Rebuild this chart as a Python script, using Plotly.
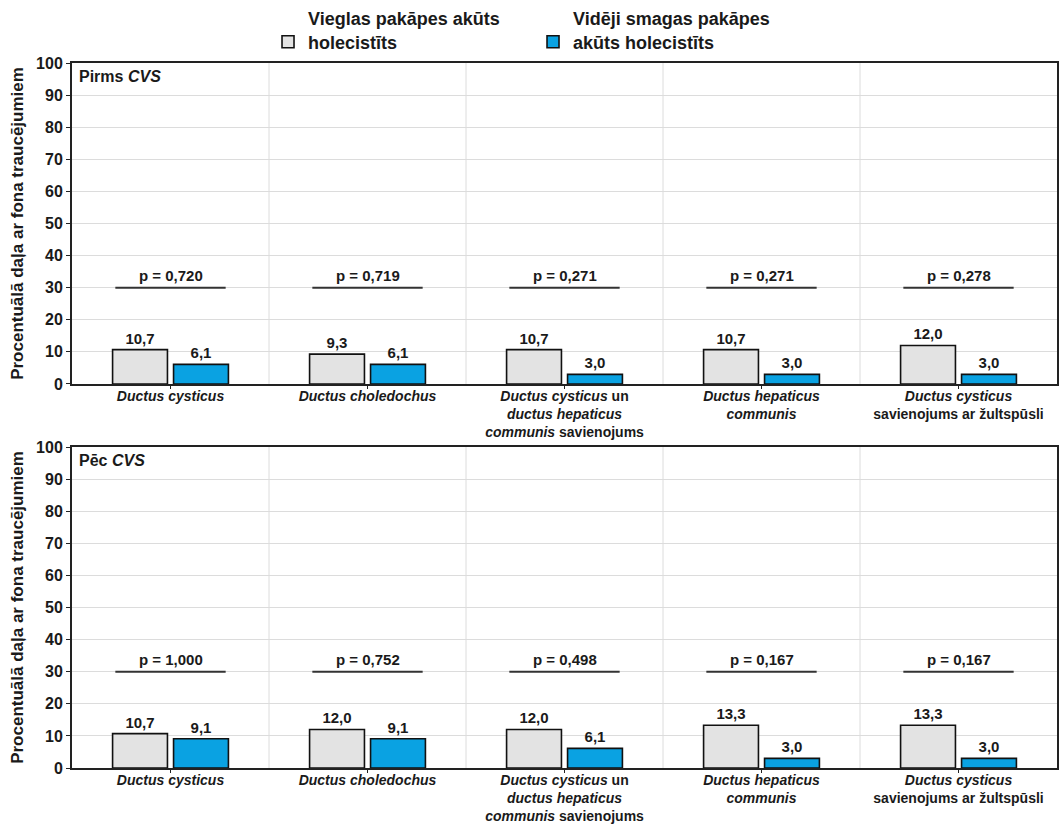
import plotly.graph_objects as go
from plotly.subplots import make_subplots

# Duct segments (x categories) and their tick labels
categories = [
    "Ductus cysticus",
    "Ductus choledochus",
    "Ductus cysticus un ductus hepaticus communis savienojums",
    "Ductus hepaticus communis",
    "Ductus cysticus savienojums ar žultspūsli",
]
tick_labels = [
    "<i>Ductus cysticus</i>",
    "<i>Ductus choledochus</i>",
    "<i>Ductus cysticus</i> un<br><i>ductus hepaticus</i><br><i>communis</i> savienojums",
    "<i>Ductus hepaticus</i><br><i>communis</i>",
    "<i>Ductus cysticus</i><br>savienojums ar žultspūsli",
]

series_names = ["Vieglas pakāpes akūts<br>holecistīts", "Vidēji smagas pakāpes<br>akūts holecistīts"]

# Before CVS
mild_before = [10.7, 9.3, 10.7, 10.7, 12.0]
moderate_before = [6.1, 6.1, 3.0, 3.0, 3.0]
p_before = [0.720, 0.719, 0.271, 0.271, 0.278]

# After CVS
mild_after = [10.7, 12.0, 12.0, 13.3, 13.3]
moderate_after = [9.1, 9.1, 6.1, 3.0, 3.0]
p_after = [1.000, 0.752, 0.498, 0.167, 0.167]

panel_titles = ["Pirms <i>CVS</i>", "Pēc <i>CVS</i>"]
y_title = "Procentuālā daļa ar fona traucējumiem"

FONT = "Arial, Liberation Sans, sans-serif"
INK = "#1a1a1a"
GREY_FILL = "#e3e3e3"
BLUE_FILL = "#0aa2e2"
GRID = "#dcdcdc"
P_LINE_Y = 30

fig = make_subplots(rows=2, cols=1, vertical_spacing=0.0894)

panels = [
    (mild_before, moderate_before, p_before),
    (mild_after, moderate_after, p_after),
]

for row, (mild, moderate, pvals) in enumerate(panels, start=1):
    for vals, name, color in ((mild, series_names[0], GREY_FILL), (moderate, series_names[1], BLUE_FILL)):
        fig.add_trace(
            go.Bar(
                x=categories,
                y=vals,
                name=name,
                marker=dict(color=color, line=dict(color="#111111", width=1.6)),
                texttemplate="%{y:.1f}",
                textposition="outside",
                textfont=dict(family=FONT, size=15, color=INK, weight="bold"),
                cliponaxis=False,
                showlegend=(row == 1),
                legendgroup=name,
            ),
            row=row,
            col=1,
        )

    xref = "x" if row == 1 else "x2"
    yref = "y" if row == 1 else "y2"

    # Vertical separators between categories
    for b in range(1, len(categories)):
        fig.add_shape(
            type="line", xref=xref, yref=yref + " domain",
            x0=b - 0.5, x1=b - 0.5, y0=0, y1=1,
            line=dict(color=GRID, width=1), layer="below",
        )

    # Significance bars with p-values
    for i, p in enumerate(pvals):
        fig.add_shape(
            type="line", xref=xref, yref=yref,
            x0=i - 0.28, x1=i + 0.28, y0=P_LINE_Y, y1=P_LINE_Y,
            line=dict(color="#333333", width=2),
        )
        fig.add_annotation(
            x=i, y=P_LINE_Y, xref=xref, yref=yref,
            text="p = " + f"{p:.3f}".replace(".", ","),
            showarrow=False, yanchor="bottom", yshift=2,
            font=dict(family=FONT, size=15, color=INK, weight="bold"),
        )

    # Panel caption
    fig.add_annotation(
        x=0.005, y=0.99, xref=xref + " domain", yref=yref + " domain",
        text=panel_titles[row - 1], showarrow=False,
        xanchor="left", yanchor="top",
        font=dict(family=FONT, size=16, color=INK, weight="bold"),
    )

    fig.update_xaxes(
        row=row, col=1,
        tickvals=categories, ticktext=tick_labels,
        tickfont=dict(family=FONT, size=14, color=INK, weight="bold"),
        showgrid=False, showline=True, linecolor="#222222", linewidth=2,
        mirror=True, ticks="outside", ticklen=3, tickcolor="#222222",
        ticklabelstandoff=-5,
        automargin=False,
    )
    fig.update_yaxes(
        row=row, col=1,
        range=[0, 100], dtick=10,
        tickfont=dict(family=FONT, size=16, color=INK, weight="bold"),
        showgrid=True, gridcolor=GRID, gridwidth=1,
        showline=True, linecolor="#222222", linewidth=2, mirror=True,
        ticks="outside", ticklen=4, tickcolor="#222222",
        zeroline=False, automargin=False,
        title=dict(text=y_title, standoff=8,
                   font=dict(family=FONT, size=17, color=INK, weight="bold")),
    )

fig.update_layout(
    width=1062,
    height=825,
    margin=dict(l=72, r=5, t=63, b=57, autoexpand=False),
    paper_bgcolor="white",
    plot_bgcolor="white",
    separators=",.",
    barmode="group",
    bargap=0.381,
    bargroupgap=0.1,
    font=dict(family=FONT, color=INK),
    legend=dict(
        orientation="h",
        x=0.199, xanchor="left",
        y=1.004, yanchor="bottom",
        valign="bottom",
        font=dict(family=FONT, size=18, color=INK, weight="bold"),
        itemwidth=30,
        entrywidth=220,
        entrywidthmode="pixels",
        tracegroupgap=0,
        bgcolor="rgba(0,0,0,0)",
    ),
)

fig.write_html("out.html")
